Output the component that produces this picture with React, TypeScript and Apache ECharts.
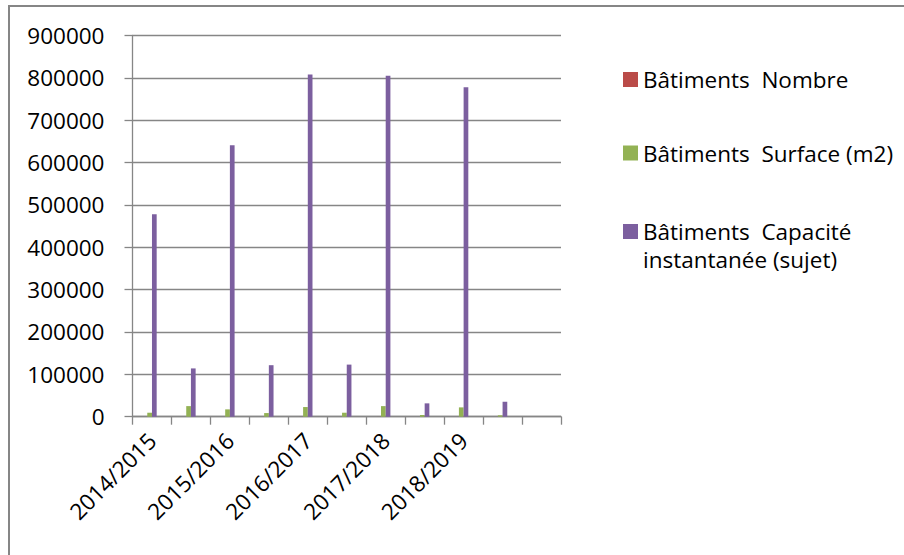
import React, { useEffect, useRef } from "react";
import * as echarts from "echarts";

// Seasons on the category axis; the unlabelled slots sit between them.
const categories = [
  "2014/2015", "", "2015/2016", "", "2016/2017", "",
  "2017/2018", "", "2018/2019", "", "",
];

const seriesNames = [
  "Bâtiments  Nombre",
  "Bâtiments  Surface (m2)",
  "Bâtiments  Capacité instantanée (sujet)",
];

const nombre = [60, 45, 70, 40, 75, 45, 80, 20, 70, 15];
const surface = [9400, 25000, 17300, 8600, 22800, 9400, 25000, 4000, 22000, 3300];
const capacite = [478000, 114000, 641000, 121600, 808000, 123000, 805000, 31500, 778000, 35300];

const yTicks = { min: 0, max: 900000, interval: 100000 };

const FONT = "'Open Sans', 'Noto Sans', sans-serif";
const FONT_SIZE = 22.5;
const AXIS_GREY = "#868686";
const COLORS = ["#BA4B48", "#93B254", "#7C5F9F"];

export default function App() {
  const ref = useRef<HTMLDivElement>(null);

  useEffect(() => {
    if (!ref.current) return;
    const chart = echarts.init(ref.current, undefined, { renderer: "svg" });

    const legendBase = {
      orient: "vertical" as const,
      left: 623,
      padding: 0,
      itemWidth: 15,
      itemHeight: 15,
      itemGap: 0,
      icon: "rect",
      selectedMode: false,
      textStyle: { fontFamily: FONT, fontSize: FONT_SIZE, color: "#000", lineHeight: 22 },
    };

    chart.setOption({
      animation: false,
      backgroundColor: "#ffffff",
      textStyle: { fontFamily: FONT },
      grid: { left: 132.5, right: 343, top: 35.5, bottom: 138.3, containLabel: false },
      xAxis: {
        type: "category",
        data: categories,
        boundaryGap: true,
        axisLine: { show: true, lineStyle: { color: AXIS_GREY, width: 1.3 } },
        axisTick: { show: true, interval: 0, length: 8, lineStyle: { color: AXIS_GREY, width: 1.3 } },
        axisLabel: {
          interval: 0,
          rotate: 45,
          margin: 20,
          fontFamily: FONT,
          fontSize: FONT_SIZE,
          color: "#000",
        },
      },
      yAxis: {
        type: "value",
        min: yTicks.min,
        max: yTicks.max,
        interval: yTicks.interval,
        axisLine: { show: true, lineStyle: { color: AXIS_GREY, width: 1.3 } },
        axisTick: { show: true, length: 8, lineStyle: { color: AXIS_GREY, width: 1.3 } },
        splitLine: { show: true, lineStyle: { color: AXIS_GREY, width: 1.3 } },
        axisLabel: {
          margin: 28,
          fontFamily: FONT,
          fontSize: FONT_SIZE,
          color: "#000",
          formatter: (v: number) => String(v),
        },
      },
      legend: [
        { ...legendBase, top: 68, data: [seriesNames[0]] },
        { ...legendBase, top: 141.5, data: [seriesNames[1]] },
        {
          ...legendBase,
          top: 220,
          data: [seriesNames[2]],
          formatter: () => "Bâtiments  Capacité",
        },
      ],
      graphic: [
        {
          type: "rect",
          silent: true,
          shape: { x: 9, y: 6, width: 910, height: 560 },
          style: { fill: "none", stroke: AXIS_GREY, lineWidth: 2 },
        },
        {
          type: "text",
          left: 643,
          top: 248,
          silent: true,
          style: { text: "instantanée (sujet)", font: `${FONT_SIZE}px ${FONT}`, fill: "#000" },
        },
      ],
      series: [
        { name: seriesNames[0], type: "bar", data: nombre, barWidth: 4.7, barGap: "0%", itemStyle: { color: COLORS[0] } },
        { name: seriesNames[1], type: "bar", data: surface, barWidth: 4.7, barGap: "0%", itemStyle: { color: COLORS[1] } },
        { name: seriesNames[2], type: "bar", data: capacite, barWidth: 4.7, barGap: "0%", itemStyle: { color: COLORS[2] } },
        // empty fourth slot keeps the Excel-style offset of the bar cluster
        { name: "", type: "bar", data: [], barWidth: 4.7, barGap: "0%" },
      ],
    });

    return () => chart.dispose();
  }, []);

  return (
    <div
      ref={ref}
      style={{ position: "fixed", left: 0, top: 0, width: 904, height: 555, background: "#fff" }}
    />
  );
}
